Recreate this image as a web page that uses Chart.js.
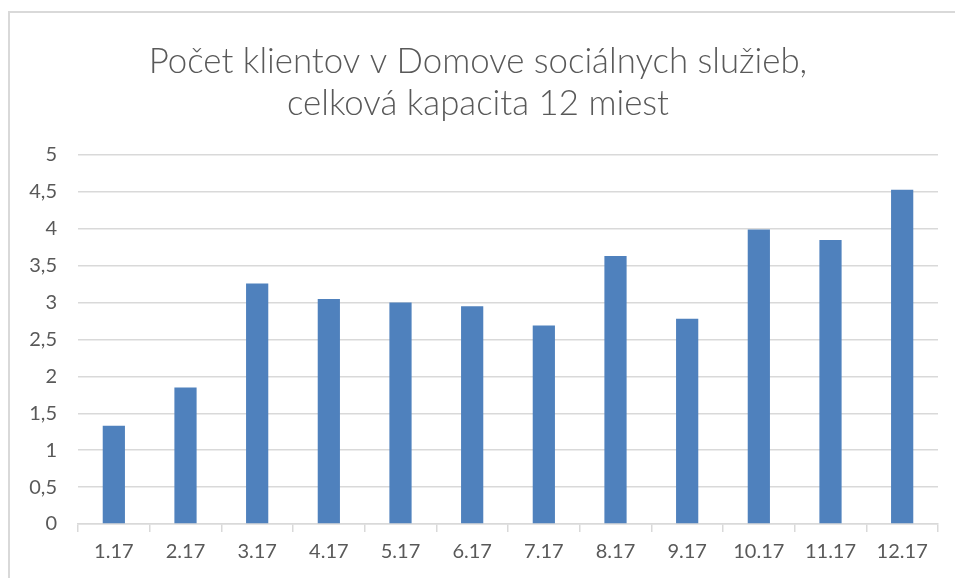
<!DOCTYPE html>
<html>
<head>
<meta charset="utf-8">
<script src="https://cdn.jsdelivr.net/npm/chart.js@4"></script>
<style>
html,body{margin:0;padding:0;background:#fff;}
#wrap{position:relative;width:955px;height:578px;}
</style>
</head>
<body>
<div id="wrap"><canvas id="graf" width="955" height="578"></canvas></div>
<script>
// mesiace 2017
const mesiace=['1.17','2.17','3.17','4.17','5.17','6.17','7.17','8.17','9.17','10.17','11.17','12.17'];
const klienti=[1.33,1.85,3.26,3.05,3.00,2.95,2.69,3.63,2.78,3.99,3.85,4.53];
const nadpis=['Počet klientov v Domove sociálnych služieb,','celková kapacita 12 miest'];

const sivaCiara='#d9d9d9';
const textFarba='#595959';
const pismo='Lato, Carlito, "Open Sans", sans-serif';

// biele pozadie + ramik grafu
const ramik={
 id:'ramik',
 beforeDraw(c){
   const x=c.ctx;
   x.save();
   x.fillStyle='#fff';
   x.fillRect(0,0,c.width,c.height);
   x.strokeStyle=sivaCiara;
   x.lineWidth=2;
   x.beginPath();
   x.moveTo(9,c.height+5);
   x.lineTo(9,12);
   x.lineTo(c.width+5,12);
   x.stroke();
   x.restore();
 }
};

new Chart(document.getElementById('graf'),{
 type:'bar',
 data:{
   labels:mesiace,
   datasets:[{
     data:klienti,
     backgroundColor:'#4f81bd',
     borderWidth:0,
     categoryPercentage:1,
     barPercentage:0.31
   }]
 },
 options:{
   responsive:false,
   animation:false,
   layout:{padding:{left:18,right:17,top:0,bottom:6}},
   plugins:{
     legend:{display:false},
     tooltip:{enabled:false},
     title:{
       display:true,
       text:nadpis,
       color:textFarba,
       font:{family:pismo,size:34.8,weight:300,lineHeight:1.207},
       padding:{top:41,bottom:30}
     }
   },
   scales:{
     x:{
       grid:{offset:true,drawOnChartArea:false,drawTicks:true,tickLength:8,color:sivaCiara,lineWidth:1.5},
       border:{display:true,color:sivaCiara,width:1.5},
       ticks:{color:textFarba,font:{family:pismo,size:20},padding:8,maxRotation:0,autoSkip:false}
     },
     y:{
       min:0,max:5,
       afterFit(s){s.width=60;},
       grid:{color:sivaCiara,lineWidth:1.5,drawTicks:false},
       border:{display:false},
       ticks:{
         stepSize:0.5,
         color:textFarba,
         font:{family:pismo,size:20},
         padding:21,
         callback:v=>String(v).replace('.',',')
       }
     }
   }
 },
 plugins:[ramik]
});
</script>
</body>
</html>
